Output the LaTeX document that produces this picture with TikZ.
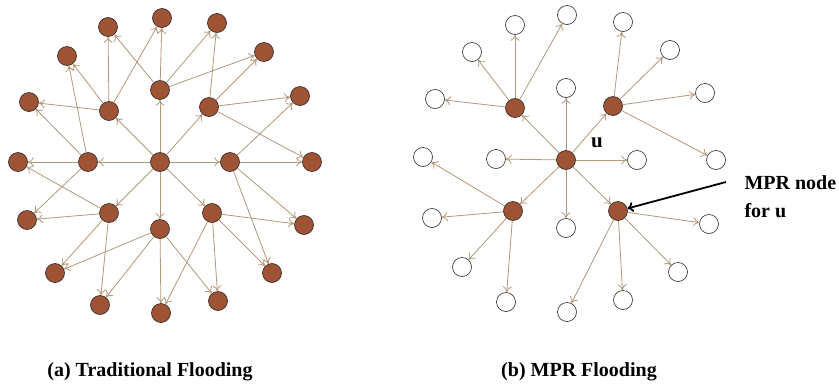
\documentclass[tikz,border=0pt]{standalone}
\usepackage{fontspec}
\setmainfont{Liberation Serif}
\usetikzlibrary{arrows.meta}
\definecolor{nodebrown}{RGB}{158,84,52}
\definecolor{edgetan}{RGB}{180,150,120}

\begin{document}
\begin{tikzpicture}[x=1pt, y=-1pt, every node/.style={font=\bfseries},
	full/.style={circle, draw=black!85, line width=0.6pt, fill=nodebrown, minimum size=19pt, inner sep=0pt},
	hollow/.style={circle, draw=black!85, line width=0.6pt, fill=white, minimum size=19pt, inner sep=0pt},
	link/.style={draw=edgetan, line width=0.8pt, -{To[length=6pt,width=9pt]}},
	caption/.style={font=\fontsize{20}{24}\selectfont\bfseries}]
	\useasboundingbox (0,0) rectangle (839,389);

	% (a) traditional flooding
	\foreach \n/\x/\y in {c/160/162, n/160/90, nw/109/111, ne/209/107, w/88/162, e/230/162, sw/109/213, se/212/213, s/160/229,
		o1/162/18, o2/108/27, o3/217/23, o4/67/56, o5/264/52, o6/29/102, o7/300/96, o8/18/162,
		o9/312/162, o10/27/220, o11/304/225, o12/55/273, o13/272/273, o14/100/305, o15/218/301, o16/161/313}
		\node[full] (a\n) at (\x,\y) {};
	\foreach \s/\t in {c/n, c/nw, c/ne, c/w, c/e, c/sw, c/se, c/s,
		n/o1, n/o2, n/o3, n/o5, nw/o2, nw/o1, nw/o6, nw/o4, ne/o3, ne/o5, ne/o7, ne/o9,
		w/o8, w/o4, w/o6, w/o10, e/o9, e/o7, e/o11, e/o13, sw/o10, sw/o8, sw/o12, sw/o14,
		s/o12, s/o14, s/o16, s/o15, se/o11, se/o13, se/o15, se/o16}
		\draw[link] (a\s) -- (a\t);

	% (b) MPR flooding
	\foreach \n/\x/\y in {c/566/160, nw/515/108, ne/613/106, sw/513/211, se/618/211}
		\node[full] (b\n) at (\x,\y) {};
	\foreach \n/\x/\y in {n/566/88, w/496/159, e/637/160, s/566/228,
		o1/567/15, o2/515/25, o3/623/22, o4/472/52, o5/670/50, o6/435/99, o7/705/93, o8/423/157,
		o9/716/160, o10/432/218, o11/709/224, o12/462/267, o13/678/272, o14/506/302, o15/623/300, o16/567/312}
		\node[hollow] (b\n) at (\x,\y) {};
	\foreach \s/\t in {c/nw, c/ne, c/sw, c/se, c/n, c/w, c/e, c/s,
		nw/o2, nw/o1, nw/o4, nw/o6, ne/o3, ne/o5, ne/o7, ne/o9,
		sw/o8, sw/o10, sw/o12, sw/o14, se/o11, se/o13, se/o15, se/o16}
		\draw[link] (b\s) -- (b\t);

	\node[font=\fontsize{21}{22}\selectfont\bfseries] (ulabel) at (597,143) {u};
	\node[anchor=west, align=left, font=\fontsize{20}{28}\selectfont\bfseries] (mpr) at (741,197) {MPR node\\for u};
	\coordinate (mprtail) at (726,182);
	\draw[line width=1.8pt, -{To[length=6pt,width=10pt]}] (mprtail) -- (bse);

	\node[caption] (capa) at (150,372) {(a) Traditional Flooding};
	\node[caption] (capb) at (579,372) {(b) MPR Flooding};
\end{tikzpicture}
\end{document}
